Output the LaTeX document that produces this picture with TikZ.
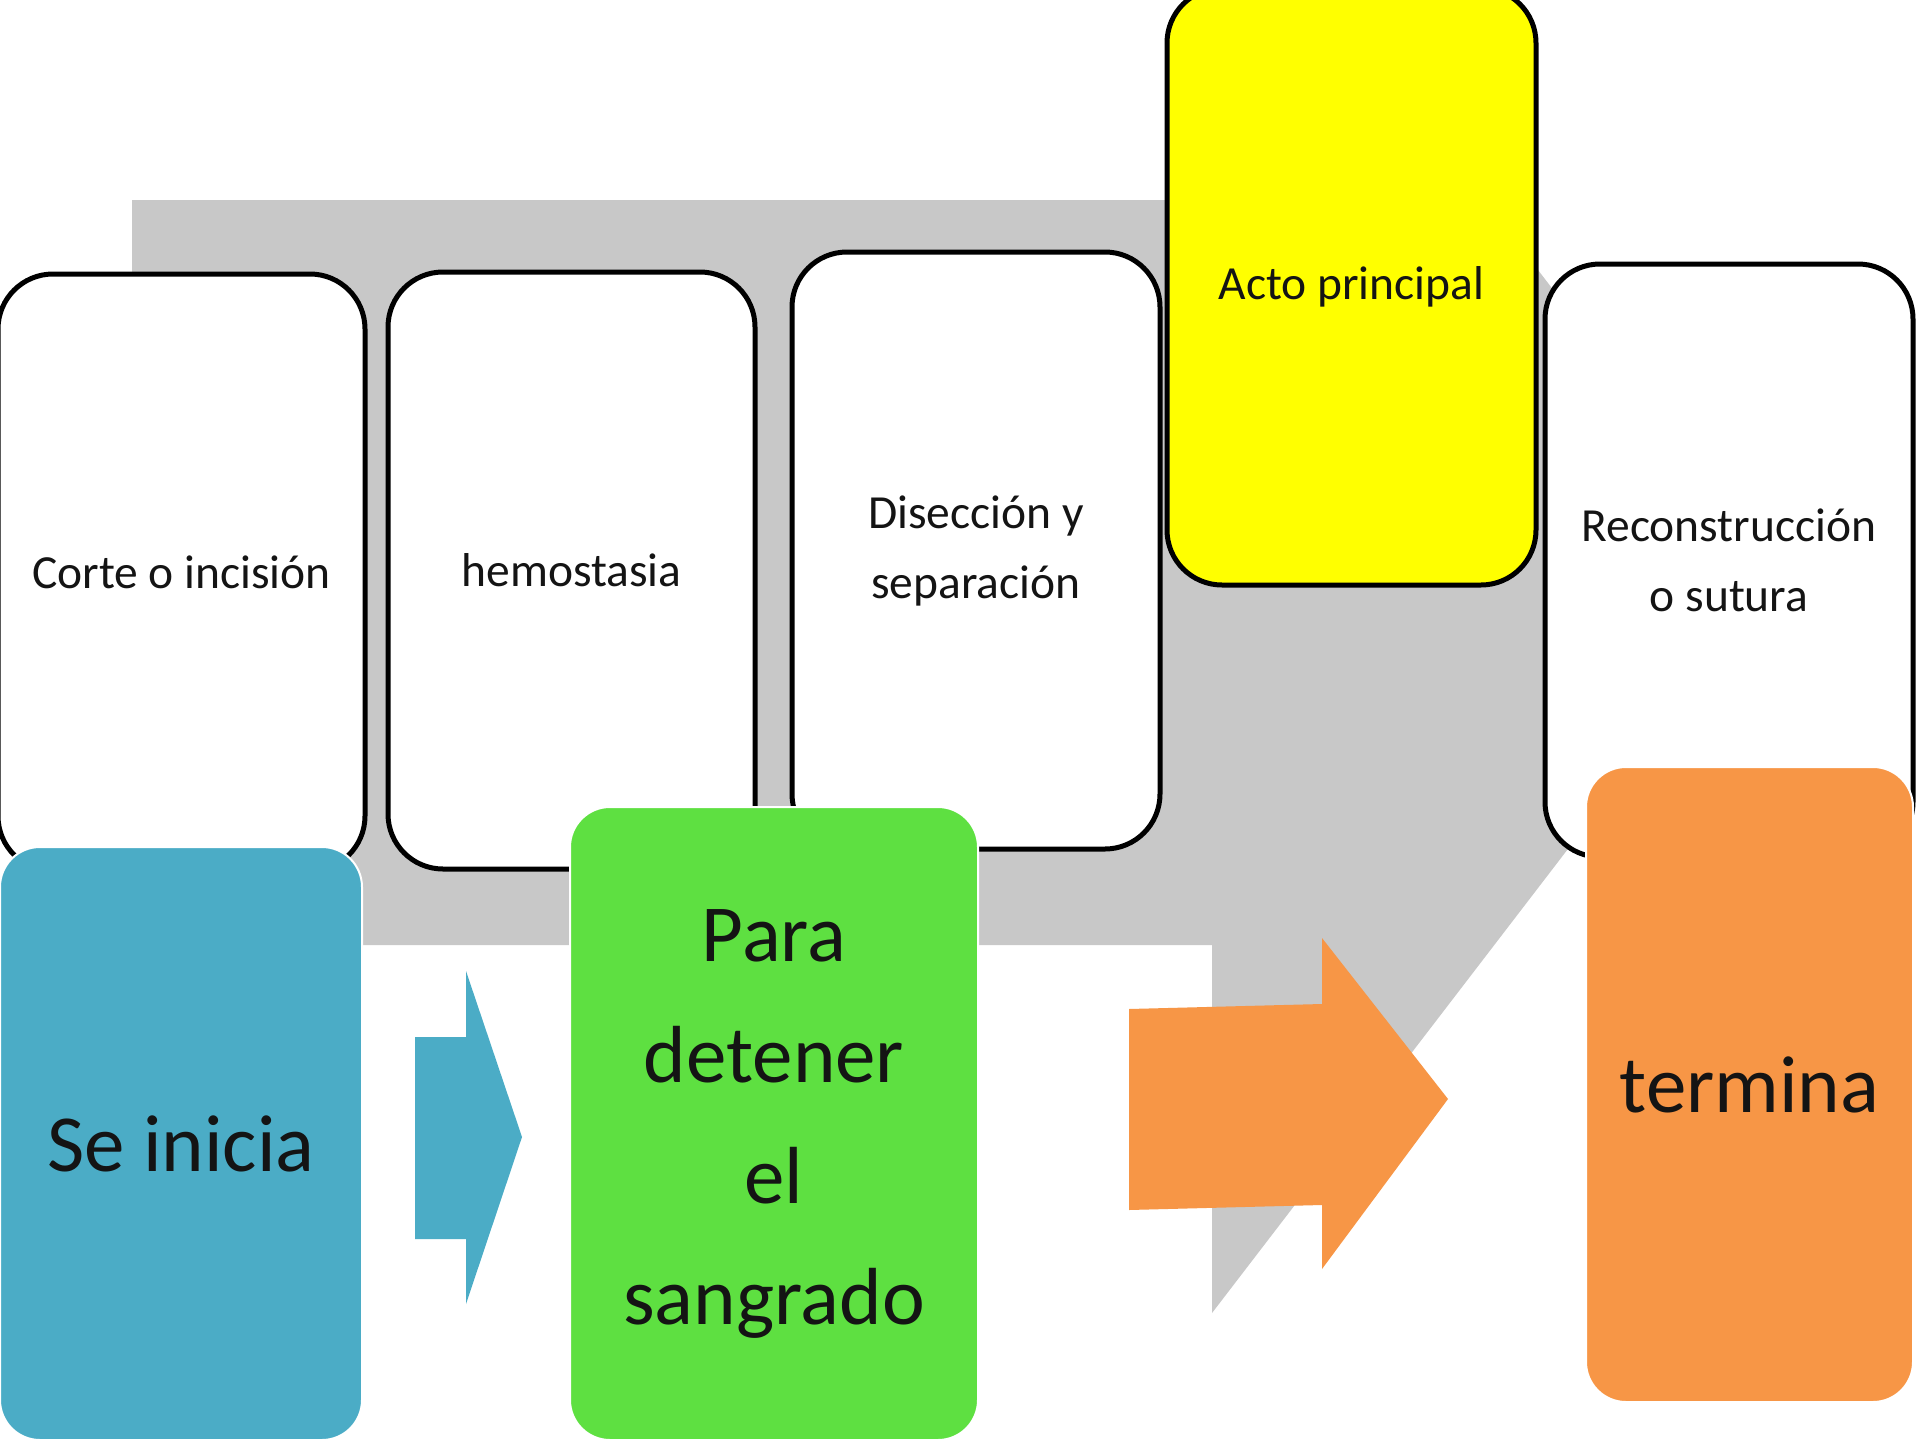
\documentclass[tikz,border=0pt]{standalone}
\usepackage{fontspec}
\setmainfont{Carlito}
\definecolor{grayarrow}{HTML}{C8C8C8}
\definecolor{bluebox}{HTML}{4BACC6}
\definecolor{greenbox}{HTML}{5EE041}
\definecolor{orangebox}{HTML}{F79646}
\definecolor{yellowbox}{HTML}{FFFF00}
\definecolor{txt}{HTML}{141414}
\tikzset{
  whitebox/.style={draw=black, line width=5pt, fill=white, rounded corners=55pt,
    minimum width=368pt, minimum height=597pt, inner sep=0pt, align=center,
    font=\fontsize{47.5}{70}\selectfont, text=txt},
  colbox/.style={draw=white, line width=2pt, rounded corners=40pt, inner sep=0pt,
    align=center, font=\fontsize{81}{121}\selectfont, text=txt}
}
\begin{document}
\begin{tikzpicture}[x=1pt,y=-1pt]
\useasboundingbox (0,0) rectangle (1920,1440);
\clip (0,0) rectangle (1920,1440);
\fill[white] (0,0) rectangle (1920,1440);
% big gray background arrow
\fill[grayarrow] (132,200) -- (1212,200) -- (1212,-155) -- (1775,579)
  -- (1212,1313) -- (1212,945) -- (132,945) -- cycle;
% white step boxes
\node[whitebox, minimum width=367pt] (corte) at (181.5,572.5) {Corte o incisión};
\node[whitebox, minimum width=367pt] (hemo) at (571.5,570.5) {hemostasia};
\node[whitebox] (disec) at (976,550.5) {Disección y\\separación};
\node[whitebox, fill=yellowbox, minimum width=369pt] (acto) at (1351.5,286.5) {Acto principal};
\node[whitebox, minimum height=593pt] (recon) at (1729,560.5) {Reconstrucción\\o sutura};
% coloured boxes
\node[colbox, fill=bluebox, minimum width=362pt, minimum height=593pt] (inicia) at (181,1143.5) {Se inicia};
\node[colbox, fill=greenbox, minimum width=408pt, minimum height=633pt] (para) at (774,1123.5) {Para\\detener\\el\\sangrado};
\node[colbox, fill=orangebox, minimum width=327pt, minimum height=635pt] (termina) at (1749.5,1084.5) {termina};
% block arrows
\fill[bluebox] (415,1037) -- (466,1037) -- (466,971) -- (522,1137) -- (466,1304)
  -- (466,1239) -- (415,1239) -- cycle;
\fill[orangebox] (1129,1009) -- (1322,1004) -- (1322,938) -- (1448,1099)
  -- (1322,1269) -- (1322,1205) -- (1129,1210) -- cycle;
\end{tikzpicture}
\end{document}
